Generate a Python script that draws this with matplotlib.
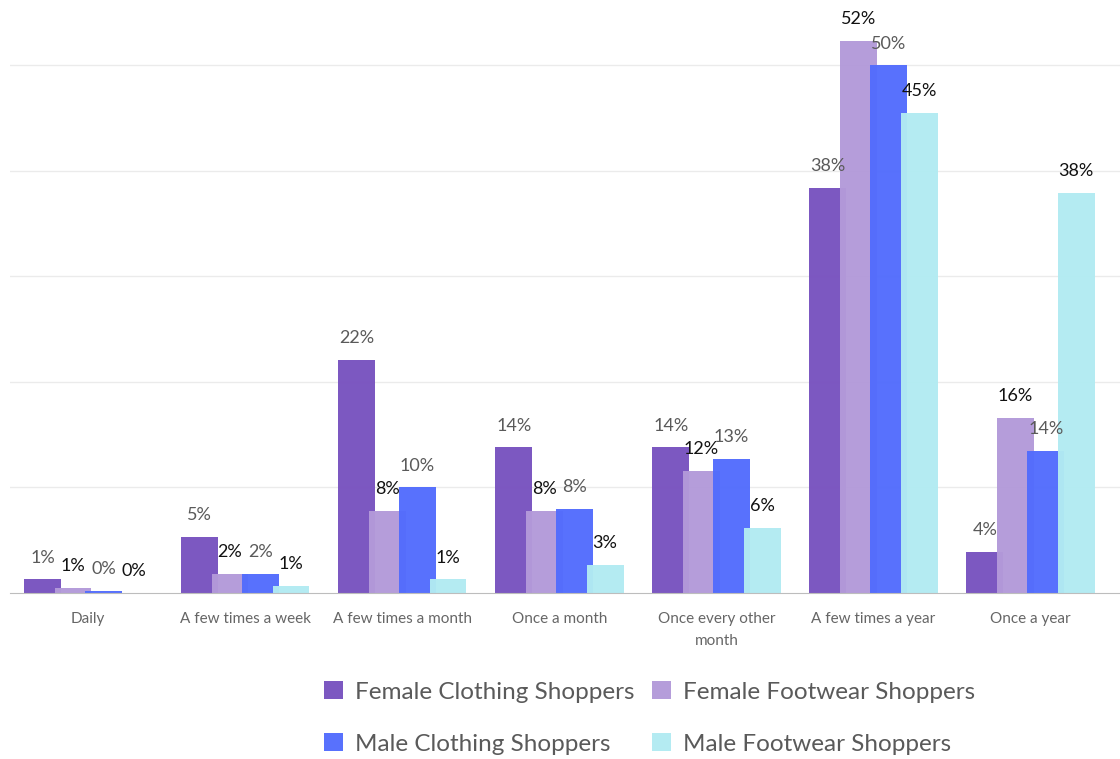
import numpy as np
import matplotlib.pyplot as plt

categories = ["Daily", "A few times a week", "A few times a month", "Once a month",
              "Once every other\nmonth", "A few times a year", "Once a year"]
series_names = ["Female Clothing Shoppers", "Female Footwear Shoppers",
                "Male Clothing Shoppers", "Male Footwear Shoppers"]
female_clothing = [1.3, 5.3, 22.1, 13.8, 13.8, 38.4, 3.9]
female_footwear = [0.5, 1.8, 7.8, 7.8, 11.6, 52.3, 16.6]
male_clothing = [0.2, 1.8, 10.0, 8.0, 12.7, 50.0, 13.5]
male_footwear = [0.0, 0.7, 1.3, 2.7, 6.2, 45.5, 37.9]
labels = [
    ["1%", "5%", "22%", "14%", "14%", "38%", "4%"],
    ["1%", "2%", "8%", "8%", "12%", "52%", "16%"],
    ["0%", "2%", "10%", "8%", "13%", "50%", "14%"],
    ["0%", "1%", "1%", "3%", "6%", "45%", "38%"],
]
colors = ["#7852bf", "#b39ad9", "#526cfd", "#b2ebf2"]
label_colors = ["#5a5a5a", "#111111", "#5a5a5a", "#111111"]

plt.rcParams['font.family'] = ['Lato', 'DejaVu Sans']

fig = plt.figure(figsize=(11.2, 7.59), dpi=100)
ax = fig.add_axes([0.009, 0.2187, 0.991, 0.7813])

x = np.arange(len(categories))
step = 0.194
width = 0.235
data = [female_clothing, female_footwear, male_clothing, male_footwear]
bars = []
for i, vals in enumerate(data):
    pos = x + (i - 1.5) * step
    b = ax.bar(pos, vals, width=width, color=colors[i], alpha=0.97,
               label=series_names[i], zorder=2 + i)
    bars.append(b)
    for p, v, t in zip(pos, vals, labels[i]):
        ax.text(p, v + 1.3, t, ha='center', va='bottom', fontsize=13,
                color=label_colors[i], zorder=10)

ax.set_xlim(-0.4975, 6.57)
ax.set_ylim(0, 56.2)
ax.set_yticks([10, 20, 30, 40, 50])
ax.yaxis.grid(True, color="#ebebeb", linewidth=1, zorder=0)
ax.set_axisbelow(True)
ax.tick_params(axis='y', left=False, labelleft=False)
ax.tick_params(axis='x', length=0, pad=14)
ax.set_xticks(x)
ax.set_xticklabels(categories, fontsize=11, color="#666666", linespacing=1.7,
                   va='top')
for s in ['top', 'right', 'left']:
    ax.spines[s].set_visible(False)
ax.spines['bottom'].set_color("#bdbdbd")
ax.spines['bottom'].set_zorder(20)

# legend fills column by column, so reorder to get FC FF / MC MF rows
order = [0, 2, 1, 3]
fig.legend([bars[k] for k in order], [series_names[k] for k in order],
           loc='lower left', bbox_to_anchor=(0.27, -0.023), ncol=2, frameon=False,
           prop={'size': 17.5}, labelcolor="#5a5a5a",
           handlelength=0.75, handleheight=0.75,
           handletextpad=0.5, columnspacing=0.75, labelspacing=1.25)

fig.savefig("out.png", dpi=100)
